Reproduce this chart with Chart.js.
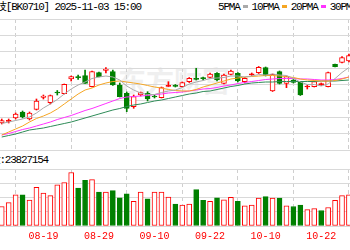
<!DOCTYPE html>
<html>
<head>
<meta charset="utf-8">
<title>BK0710</title>
<script src="https://cdn.jsdelivr.net/npm/chart.js@4"></script>
<style>
  body { margin: 0; width: 350px; height: 250px; overflow: hidden; background: #fff; position: relative; }
  .txt { position: absolute; font: 11px 'Liberation Mono', monospace; letter-spacing: -1.2px; color: #000; white-space: nowrap; line-height: 13px; }
  #title { left: -4px; top: 1px; }
  #legend { left: 218px; top: 1px; }
  #legend i { display: inline-block; width: 5px; height: 3px; margin: 0 4px 2px 3px; vertical-align: middle; }
  #vollabel { left: -30px; top: 154px; }
  #wm { position: absolute; left: 118px; top: 64px; font: bold 28px 'Noto Sans CJK SC'; line-height: 32px; color: #efefef; }
  canvas { position: absolute; left: 0; }
</style>
</head>
<body>
<div id="wm">东方财富</div>
<div class="txt" id="title">技[BK0710] 2025-11-03 15:00</div>
<div class="txt" id="legend">5PMA<i style="background:#aaa"></i>10PMA<i style="background:#f5a623"></i>20PMA<i style="background:#ff33ff"></i>30PMA<i style="background:#2e8b57"></i></div>
<div class="txt" id="vollabel">成交量:23827154</div>
<canvas id="price" width="350" height="152" style="top:0"></canvas>
<canvas id="vol" width="350" height="100" style="top:150px"></canvas>
<script>
// trading days shown (index 0 = 08-11)
const dates = ['08-11','08-12','08-13','08-14','08-15','08-18','08-19','08-20','08-21','08-22',
  '08-25','08-26','08-27','08-28','08-29','09-01','09-02','09-03','09-04','09-05',
  '09-08','09-09','09-10','09-11','09-12','09-15','09-16','09-17','09-18','09-19',
  '09-22','09-23','09-24','09-25','09-26','09-29','09-30','10-09','10-10','10-13',
  '10-14','10-15','10-16','10-17','10-20','10-21','10-22','10-23','10-24','10-27','10-28'];
const tickIdx = [6, 14, 22, 30, 38, 46];

const open  = [1281,1286.1,1296,1314,1293,1321.8,1357.5,1341.9,1372.5,1368.9,
  1413,1419,1422.9,1389.9,1431.9,1438.5,1434.9,1395,1370.1,1329.9,
  1365,1370.1,1360.8,1356.9,1391.1,1392.6,1389.9,1404.9,1413.9,1416,
  1418.1,1430.1,1400.1,1427.1,1430.1,1404.9,1425.6,1431.9,1446.9,1377,
  1434.9,1400.1,1410,1403.1,1389,1389.9,1396.2,1389.9,1457.1,1463.1,1467];
const high  = [1293,1293,1311,1317,1314,1353,1365,1365,1378.5,1398,
  1422,1425,1440,1437,1434,1446.9,1440,1401,1374,1365,
  1374,1374.9,1365,1389,1404.9,1396.5,1404,1417.5,1445.1,1419,
  1431,1432.5,1428,1440,1432.5,1417.5,1431,1450.5,1449,1428,
  1437,1422,1411.5,1405.5,1395,1407,1401,1434,1458,1480.5,1488];
const low   = [1278,1281,1293,1296,1290,1320,1353,1338,1365,1368,
  1407,1411.5,1399.5,1389,1419,1431,1393.5,1359,1314.9,1325.1,
  1362,1347,1356,1356,1390.5,1389,1389,1402.5,1410,1410,
  1416,1407,1398,1425,1404,1401,1423.5,1429.5,1422,1375.5,
  1398,1386.9,1401,1363.5,1383,1389,1393.5,1389,1449,1461,1464];
const close = [1288.5,1287.6,1308,1299,1311,1347,1362,1362.9,1371,1397.1,
  1419.9,1417.2,1400.1,1434.9,1419.9,1443,1395,1359.9,1325.1,1359.9,
  1371.9,1353,1359,1386.9,1392.6,1391.1,1401.9,1415.1,1412.1,1414.2,
  1428,1410,1425,1437,1407,1415.1,1428,1448.1,1422.9,1427.1,
  1400.1,1419.9,1403.1,1365,1390.8,1404.9,1398,1431.9,1449.9,1476.9,1482.9];

const ma5  = [1279.5,1284,1288.5,1293,1299,1311,1326,1338,1351.5,1368,
  1383,1395,1404,1414.5,1419,1422,1419,1410,1392,1380,
  1371,1366.5,1366.5,1372.5,1377,1380,1387.5,1398,1404,1408.5,
  1414.5,1416,1417.5,1422,1422,1419,1422,1426.5,1425,1428,
  1425,1423.5,1414.5,1404,1396.5,1396.5,1392,1398,1414.5,1432.5,1447.5];
const ma10 = [1245,1254,1263,1272,1284,1294.5,1302,1311,1323,1338,
  1353,1368,1380,1386,1395,1401,1405.5,1407,1404,1401,
  1398,1393.5,1389,1386,1381.5,1378.5,1377,1377,1381.5,1389,
  1395,1401,1407,1413,1416,1419,1420.5,1422,1423.5,1423.5,
  1422,1420.5,1417.5,1413,1410,1408.5,1407,1407,1408.5,1413,1419];
const ma20 = [1245,1249.5,1255.5,1261.5,1266,1272,1278,1284,1291.5,1297.5,
  1303.5,1311,1318.5,1324.5,1332,1339.5,1347,1354.5,1359,1360.5,
  1362,1363.5,1366.5,1368,1371,1372.5,1374,1377,1380,1383,
  1384.5,1387.5,1392,1395,1399.5,1402.5,1405.5,1408.5,1411.5,1413,
  1414.5,1414.5,1414.5,1413,1413,1411.5,1410,1410,1411.5,1414.5,1419];
const ma30 = [1239,1243.5,1248,1254,1260,1263,1266,1270.5,1275,1279.5,
  1284,1290,1296,1302,1308,1314,1320,1324.5,1330.5,1335,
  1338,1342.5,1347,1350,1354.5,1359,1363.5,1368,1371,1375.5,
  1377,1381.5,1386,1390.5,1393.5,1398,1401,1402.5,1404,1404,
  1405.5,1405.5,1405.5,1405.5,1405.5,1405.5,1407,1407,1407,1408.5,1410];

// volume, millions; volDir: 1 = red, 0 = green
const volume = [21.0,25.3,33.7,33.7,28.0,41.7,35.5,32.7,44.3,46.8,
  57.7,41.0,49.2,50.0,36.7,36.5,38.2,30.3,34.8,26.7,
  36.5,29.3,36.5,36.5,31.2,23.7,22.7,23.7,39.3,27.7,
  26.7,30.3,28.3,31.0,26.7,21.7,22.7,30.0,31.7,30.0,
  30.0,21.7,21.0,22.7,17.7,18.7,16.7,20.0,27.7,32.7,33.7];
const volDir = [1,1,1,0,1,1,1,1,1,1, 1,0,0,1,0,1,0,0,0,1,
  1,0,1,1,1,0,1,1,0,0, 1,0,1,1,0,1,1,1,0,1,
  0,1,0,0,1,1,0,1,1,1,1];

const RED = '#ff0000', GREEN = '#008000', GRID = '#d9d9d9', VGRID = '#cfcfcf';
const X_MIN = -0.25, X_MAX = 50.15;

const isUp = i => close[i] >= open[i];

function xAxis(showLabels) {
  return {
    type: 'linear', min: X_MIN, max: X_MAX, offset: false,
    afterBuildTicks: s => { s.ticks = tickIdx.map(v => ({ value: v })); },
    afterFit: s => { if (!showLabels) s.height = 0; },
    grid: { color: VGRID, drawTicks: false },
    border: { display: false, dash: [4, 3] },
    ticks: {
      display: showLabels, autoSkip: false, maxRotation: 0, padding: 4,
      color: RED, font: { family: 'Liberation Mono', size: 10 },
      callback: v => dates[v]
    }
  };
}
function yAxis(min, max, step) {
  return {
    min: min, max: max,
    afterFit: s => { s.width = 0; },
    ticks: { display: false, stepSize: step },
    grid: { color: GRID, drawTicks: false },
    border: { display: false }
  };
}
function maLine(data, color) {
  return {
    type: 'line', order: 0,
    data: data.map((v, i) => ({ x: i, y: v })),
    borderColor: color, borderWidth: 1, pointRadius: 0, tension: 0
  };
}

new Chart(document.getElementById('price'), {
  type: 'bar',
  data: {
    datasets: [
      maLine(ma5, '#aaaaaa'),
      maLine(ma10, '#f5a623'),
      maLine(ma20, '#ff33ff'),
      maLine(ma30, '#2e8b57'),
      {
        order: 2, grouped: false, barThickness: 1,
        data: dates.map((d, i) => ({ x: i, y: [low[i], high[i]] })),
        backgroundColor: c => isUp(c.dataIndex) ? RED : GREEN,
        borderWidth: 0
      },
      {
        order: 1, grouped: false, barThickness: 5, minBarLength: 1,
        data: dates.map((d, i) => ({ x: i, y: [open[i], close[i]] })),
        backgroundColor: c => {
          const i = c.dataIndex;
          if (!isUp(i)) return GREEN;
          return Math.abs(close[i] - open[i]) < 4 ? RED : '#ffffff';
        },
        borderColor: c => isUp(c.dataIndex) ? RED : GREEN,
        borderWidth: 1, borderSkipped: false
      }
    ]
  },
  options: {
    responsive: false, animation: false, events: [],
    layout: { padding: { top: 19, bottom: 2, left: 0, right: 0 } },
    plugins: { legend: { display: false }, tooltip: { enabled: false } },
    scales: { x: xAxis(false), y: yAxis(1200, 1593, 49.125) }
  }
});

new Chart(document.getElementById('vol'), {
  type: 'bar',
  data: {
    datasets: [{
      grouped: false, barThickness: 5,
      data: volume.map((v, i) => ({ x: i, y: v })),
      backgroundColor: c => volDir[c.dataIndex] ? '#ffffff' : GREEN,
      borderColor: c => volDir[c.dataIndex] ? RED : GREEN,
      borderWidth: 1, borderSkipped: false
    }]
  },
  options: {
    responsive: false, animation: false, events: [],
    layout: { padding: { top: 19, bottom: 4, left: 0, right: 0 } },
    plugins: { legend: { display: false }, tooltip: { enabled: false } },
    scales: { x: xAxis(true), y: yAxis(0, 61.5, 15.375) }
  }
});
</script>
</body>
</html>
